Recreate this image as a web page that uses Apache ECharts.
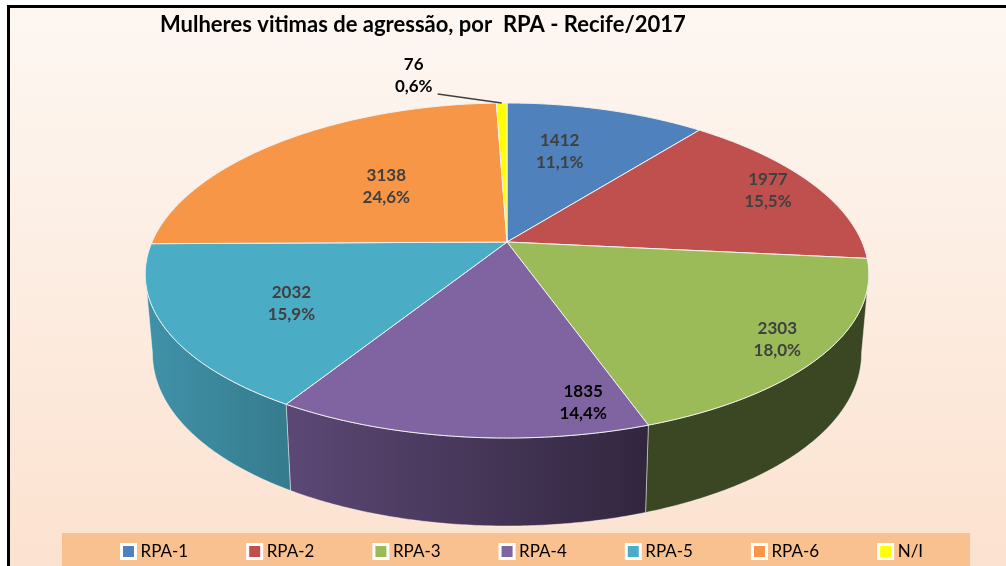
<!DOCTYPE html>
<html>
<head>
<meta charset="utf-8">
<title>Mulheres vitimas de agressão, por RPA - Recife/2017</title>
<script src="https://cdn.jsdelivr.net/npm/echarts@6/dist/echarts.min.js"></script>
<style>
  html, body { margin: 0; padding: 0; background: #fff; }
  #grafico { width: 1006px; height: 566px; }
</style>
</head>
<body>
<div id="grafico"></div>
<script>
// dados
var categorias = ['RPA-1', 'RPA-2', 'RPA-3', 'RPA-4', 'RPA-5', 'RPA-6', 'N/I'];
var valores = [1412, 1977, 2303, 1835, 2032, 3138, 76];
var cores = ['#4F81BD', '#C0504D', '#9BBB59', '#8064A2', '#4BACC6', '#F79646', '#FFFF00'];
var corRotulo = ['#404040', '#404040', '#404040', '#000000', '#404040', '#404040', '#000000'];
// onde fica o rotulo dentro da fatia: [fracao do angulo, fracao do raio]; null = fora
var posRotulo = [[0.4, 0.67], [0.5, 0.86], [0.5, 0.86], [0.14, 0.84], [0.46, 0.645], [0.5, 0.545], null];

// geometria da pizza "3D" (elipse com um pouco de perspectiva)
var cx = 507, cy = 242, rx = 355, ry = 167.5, ryk = 28.5, kx = 0.2;
var fonte = 'Lato, "Open Sans", sans-serif';

function topo(graus, f) {
  var a = graus * Math.PI / 180, s = Math.sin(a), c = Math.cos(a);
  if (f == null) f = 1;
  return [cx + f * rx * c * (1 + kx * s), cy + f * (ry * s + ryk * s * s)];
}
function base(graus) {
  var p = topo(graus), s = Math.sin(graus * Math.PI / 180);
  return [cx + (p[0] - cx) * 0.98, p[1] + 77 + 11 * s];
}
function escurece(hex, f) {
  var n = parseInt(hex.slice(1), 16);
  var r = Math.round(((n >> 16) & 255) * f), g = Math.round(((n >> 8) & 255) * f), b = Math.round((n & 255) * f);
  return 'rgb(' + r + ',' + g + ',' + b + ')';
}

var total = valores.reduce(function (a, b) { return a + b; }, 0);
var inicio = [], fim = [];
var acc = -90;
valores.forEach(function (v) {
  inicio.push(acc);
  acc += v / total * 360;
  fim.push(acc);
});

// contorno lateral visivel (onde a elipse e mais larga)
var silD = 0, silE = 180, maxX = -1e9, minX = 1e9;
for (var t = -90; t <= 270; t += 0.25) {
  var px = topo(t)[0];
  if (t <= 90 && px > maxX) { maxX = px; silD = t; }
  if (t >= 90 && px < minX) { minX = px; silE = t; }
}

function desenha(i) {
  return function (params, api) {
    var filhos = [];
    var t;
    // lateral
    var a = Math.max(inicio[i], silD), b = Math.min(fim[i], silE);
    if (b > a) {
      var lado = [];
      for (t = a; t < b; t += 0.5) lado.push(topo(t));
      lado.push(topo(b));
      for (t = b; t > a; t -= 0.5) lado.push(base(t));
      lado.push(base(a));
      filhos.push({
        type: 'polygon',
        shape: { points: lado },
        style: {
          fill: {
            type: 'linear', x: 147, y: 0, x2: 650, y2: 0, global: true,
            colorStops: [
              { offset: 0, color: escurece(cores[i], 0.85) },
              { offset: 1, color: escurece(cores[i], 0.38) }
            ]
          },
          stroke: 'rgba(255,255,255,0.55)', lineWidth: 0.8
        },
        z2: 1
      });
    }
    // face de cima
    var face = [[cx, cy]];
    for (t = inicio[i]; t < fim[i]; t += 0.5) face.push(topo(t));
    face.push(topo(fim[i]));
    filhos.push({
      type: 'polygon',
      shape: { points: face },
      style: { fill: cores[i], stroke: '#f2f2f2', lineWidth: 1 },
      z2: 2
    });
    // rotulo
    var v = api.value(0);
    var pct = (v / total * 100).toFixed(1).replace('.', ',') + '%';
    var pos = posRotulo[i];
    var txt;
    if (pos) {
      txt = topo(inicio[i] + pos[0] * (fim[i] - inicio[i]), pos[1]);
    } else {
      var borda = topo((inicio[i] + fim[i]) / 2, 1);
      txt = [borda[0] - 88, borda[1] - 28];
      filhos.push({
        type: 'line',
        shape: { x1: borda[0] - 64, y1: borda[1] - 9, x2: borda[0], y2: borda[1] },
        style: { stroke: '#404040', lineWidth: 1.5 },
        z2: 10
      });
    }
    filhos.push({
      type: 'text',
      x: txt[0], y: txt[1],
      style: {
        text: v + '\n' + pct,
        fill: corRotulo[i],
        fontFamily: fonte, fontWeight: 'bold', fontSize: 17, lineHeight: 22,
        align: 'center', verticalAlign: 'middle'
      },
      z2: 10
    });
    return { type: 'group', children: filhos };
  };
}

var series = categorias.map(function (nome, i) {
  return {
    type: 'custom',
    name: nome,
    coordinateSystem: 'none',
    itemStyle: { color: cores[i] },
    data: [[valores[i]]],
    renderItem: desenha(i),
    animation: false
  };
});

var myChart = echarts.init(document.getElementById('grafico'));
myChart.setOption({
  backgroundColor: '#ffffff',
  animation: false,
  title: {
    text: 'Mulheres vitimas de agressão, por  RPA - Recife/2017',
    left: 155,
    top: 9,
    textStyle: { fontFamily: fonte, fontWeight: 'bold', fontSize: 22, color: '#000' }
  },
  graphic: [
    {
      type: 'rect', z: -10, silent: true,
      shape: { x: 8, y: 6, width: 998, height: 560 },
      style: {
        fill: new echarts.graphic.LinearGradient(0, 0, 0, 1, [
          { offset: 0, color: '#FDF7F2' },
          { offset: 1, color: '#FCE2D0' }
        ])
      }
    },
    {
      type: 'rect', z: -9, silent: true,
      shape: { x: 62, y: 533, width: 908, height: 33 },
      style: { fill: '#F9C190' }
    },
    {
      type: 'line', z: 5, silent: true,
      shape: { x1: 8.5, y1: 5, x2: 8.5, y2: 566 },
      style: { stroke: '#000', lineWidth: 3 }
    },
    {
      type: 'line', z: 5, silent: true,
      shape: { x1: 7, y1: 6.5, x2: 1006, y2: 6.5 },
      style: { stroke: '#000', lineWidth: 3 }
    }
  ],
  legend: {
    data: categorias,
    top: 538,
    left: 115,
    icon: 'rect',
    itemWidth: 14,
    itemHeight: 14,
    itemGap: 58,
    itemStyle: { borderColor: '#fff', borderWidth: 3 },
    textStyle: { fontFamily: fonte, fontSize: 17, color: '#000' }
  },
  series: series
});
</script>
</body>
</html>
